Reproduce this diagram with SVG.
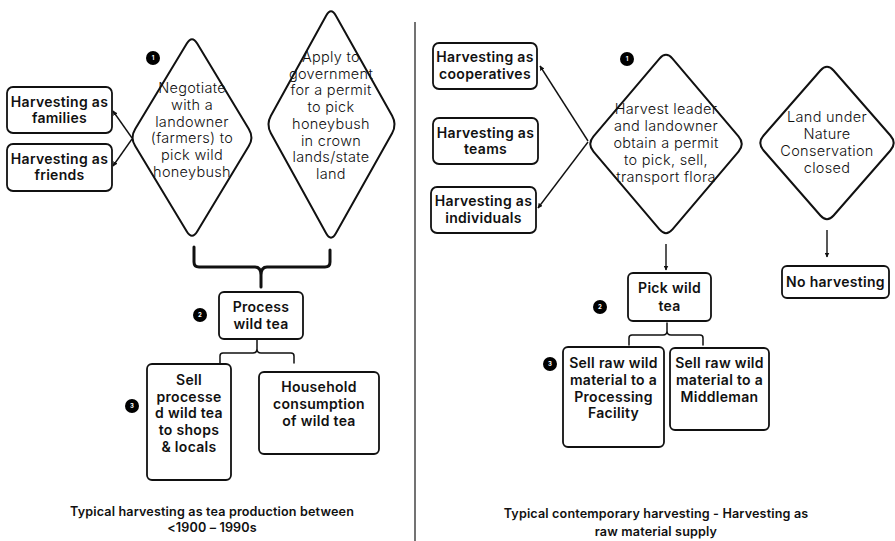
<svg xmlns="http://www.w3.org/2000/svg" width="895" height="541" viewBox="0 0 895 541">
<defs>
<marker id="ah" viewBox="0 0 10 10" refX="9" refY="5" markerWidth="5" markerHeight="5" orient="auto" markerUnits="userSpaceOnUse">
<path d="M0,0 L10,5 L0,10 Z" fill="#111"/>
</marker>
<style>
.box{fill:#fff;stroke:#111;stroke-width:1.8}
.dia{fill:#fff;stroke:#111;stroke-width:2}
.bt{font-family:Inter,"Noto Sans",sans-serif;font-weight:600;font-size:14px;letter-spacing:0.3px;fill:#111;text-anchor:middle}
.lt{font-family:Inter,"Noto Sans",sans-serif;font-weight:300;font-size:14.5px;letter-spacing:0.3px;fill:#111;text-anchor:middle}
.cap{font-family:Inter,"Noto Sans",sans-serif;font-weight:600;font-size:12.6px;letter-spacing:0.15px;fill:#111;text-anchor:middle}
.badge{fill:#000}
.bn{font-family:Inter,sans-serif;font-size:6px;fill:#fff;text-anchor:middle;font-weight:700}
.ar{stroke:#111;stroke-width:1.4;fill:none;marker-end:url(#ah)}
.br{stroke:#111;fill:none;stroke-linejoin:round;stroke-linecap:round}
</style>
</defs>
<rect width="895" height="541" fill="#fff"/>
<line x1="415" y1="22" x2="415" y2="541" stroke="#444" stroke-width="1.5"/>

<g id="connectors">
<line class="ar" x1="132" y1="138" x2="113" y2="111"/>
<line class="ar" x1="132" y1="139" x2="113" y2="166"/>
<line class="ar" x1="588" y1="141" x2="540" y2="66"/>
<line class="ar" x1="588" y1="142" x2="538" y2="208"/>
<line class="ar" x1="666" y1="244" x2="666" y2="270"/>
<line class="ar" x1="827" y1="230" x2="827" y2="257"/>
<path class="br" stroke-width="3" d="M194,247 L194,262 Q194,267 199,267 L255,267 Q261,267 261,275 L261,287 M261,275 Q261,267 267,267 L325,267 Q330,267 330,262 L330,250"/>
<path class="br" stroke-width="1.5" d="M220,363 L220,356 Q220,353 223,353 L253,353 Q257,353 257,349 L257,340 M257,349 Q257,353 261,353 L291,353 Q294,353 294,356 L294,363"/>
<path class="br" stroke-width="1.5" d="M629,345 L629,338 Q629,335 632,335 L663,335 Q667,335 667,331 L667,323 M667,331 Q667,335 671,335 L700,335 Q703,335 703,338 L703,345"/>
</g>

<g id="badges">
<circle class="badge" cx="153" cy="58" r="7"/><text class="bn" x="153" y="60">1</text>
<circle class="badge" cx="200" cy="315" r="7"/><text class="bn" x="200" y="317">2</text>
<circle class="badge" cx="132" cy="406" r="7"/><text class="bn" x="132" y="408">3</text>
<circle class="badge" cx="627" cy="59" r="7"/><text class="bn" x="627" y="61">1</text>
<circle class="badge" cx="600" cy="307" r="7"/><text class="bn" x="600" y="309">2</text>
<circle class="badge" cx="550" cy="364" r="7"/><text class="bn" x="550" y="366">3</text>
</g>

<g id="families">
<rect class="box" x="7" y="87" width="105" height="46" rx="6"/>
<text class="bt" x="59.5" y="107">Harvesting as</text>
<text class="bt" x="59.5" y="123">families</text>
</g>
<g id="friends">
<rect class="box" x="7" y="144" width="105" height="47" rx="6"/>
<text class="bt" x="59.5" y="164">Harvesting as</text>
<text class="bt" x="59.5" y="180">friends</text>
</g>

<g id="negotiate">
<path class="dia" d="M197.2,43.6 L248.8,128.9 Q254,137.5 248.8,146.1 L197.2,231.4 Q192,240 186.8,231.4 L135.2,146.1 Q130,137.5 135.2,128.9 L186.8,43.6 Q192,35 197.2,43.6 Z"/>
<text class="lt" x="192" y="93">Negotiate</text>
<text class="lt" x="192" y="109.8">with a</text>
<text class="lt" x="192" y="126.6">landowner</text>
<text class="lt" x="192" y="143.4">(farmers) to</text>
<text class="lt" x="192" y="160.2">pick wild</text>
<text class="lt" x="192" y="177">honeybush</text>
</g>

<g id="apply">
<path class="dia" d="M335.9,15.7 L392.1,115.8 Q397,124.5 392.1,133.2 L335.9,233.3 Q331,242 326.1,233.3 L270.9,133.2 Q266,124.5 270.9,115.8 L326.1,15.7 Q331,7 335.9,15.7 Z"/>
<text class="lt" x="331" y="62">Apply to</text>
<text class="lt" x="331" y="78.7">government</text>
<text class="lt" x="331" y="95.4">for a permit</text>
<text class="lt" x="331" y="112.1">to pick</text>
<text class="lt" x="331" y="128.8">honeybush</text>
<text class="lt" x="331" y="145.5">in crown</text>
<text class="lt" x="331" y="162.2">lands/state</text>
<text class="lt" x="331" y="178.9">land</text>
</g>

<g id="process">
<rect class="box" x="219" y="292" width="84" height="47" rx="5"/>
<text class="bt" x="261" y="312">Process</text>
<text class="bt" x="261" y="329">wild tea</text>
</g>

<g id="sell-processed">
<rect class="box" x="147" y="364" width="84" height="116" rx="5"/>
<text class="bt" x="189" y="385">Sell</text>
<text class="bt" x="189" y="401.7">processe</text>
<text class="bt" x="189" y="418.4">d wild tea</text>
<text class="bt" x="189" y="435.1">to shops</text>
<text class="bt" x="189" y="451.8">&amp; locals</text>
</g>

<g id="household">
<rect class="box" x="259" y="372" width="120" height="82" rx="5"/>
<text class="bt" x="319" y="392">Household</text>
<text class="bt" x="319" y="409">consumption</text>
<text class="bt" x="319" y="426">of wild tea</text>
</g>

<g id="caption-left">
<text class="cap" x="212" y="516">Typical harvesting as tea production between</text>
<text class="cap" x="212" y="532">&lt;1900 – 1990s</text>
</g>

<g id="cooperatives">
<rect class="box" x="433" y="43" width="104" height="46" rx="6"/>
<text class="bt" x="485" y="62">Harvesting as</text>
<text class="bt" x="485" y="79">cooperatives</text>
</g>
<g id="teams">
<rect class="box" x="433" y="118" width="105" height="46" rx="6"/>
<text class="bt" x="485.5" y="138">Harvesting as</text>
<text class="bt" x="485.5" y="154">teams</text>
</g>
<g id="individuals">
<rect class="box" x="431" y="187" width="105" height="46" rx="6"/>
<text class="bt" x="483.5" y="206">Harvesting as</text>
<text class="bt" x="483.5" y="223">individuals</text>
</g>

<g id="permit">
<path class="dia" d="M672.5,58.6 L738.5,136.4 Q745,144 738.5,151.6 L672.5,229.4 Q666,237 659.5,229.4 L593.5,151.6 Q587,144 593.5,136.4 L659.5,58.6 Q666,51 672.5,58.6 Z"/>
<text class="lt" x="666" y="114">Harvest leader</text>
<text class="lt" x="666" y="131">and landowner</text>
<text class="lt" x="666" y="148">obtain a permit</text>
<text class="lt" x="666" y="165">to pick, sell,</text>
<text class="lt" x="666" y="182">transport flora</text>
</g>

<g id="conservation">
<path class="dia" d="M833.6,70.5 L890.4,135.5 Q897,143 890.4,150.5 L833.6,215.5 Q827,223 820.4,215.5 L763.6,150.5 Q757,143 763.6,135.5 L820.4,70.5 Q827,63 833.6,70.5 Z"/>
<text class="lt" x="827" y="122">Land under</text>
<text class="lt" x="827" y="139">Nature</text>
<text class="lt" x="827" y="156">Conservation</text>
<text class="lt" x="827" y="173">closed</text>
</g>

<g id="no-harvesting">
<rect class="box" x="782" y="266" width="107" height="32" rx="5"/>
<text class="bt" x="835.5" y="287">No harvesting</text>
</g>

<g id="pick">
<rect class="box" x="628" y="273" width="83" height="48" rx="5"/>
<text class="bt" x="669.5" y="293">Pick wild</text>
<text class="bt" x="669.5" y="311">tea</text>
</g>

<g id="processing-facility">
<rect class="box" x="563" y="347" width="101" height="100" rx="5"/>
<text class="bt" x="613.5" y="368">Sell raw wild</text>
<text class="bt" x="613.5" y="384.8">material to a</text>
<text class="bt" x="613.5" y="401.6">Processing</text>
<text class="bt" x="613.5" y="418.4">Facility</text>
</g>

<g id="middleman">
<rect class="box" x="670" y="348" width="99" height="82" rx="5"/>
<text class="bt" x="719.5" y="368">Sell raw wild</text>
<text class="bt" x="719.5" y="384.8">material to a</text>
<text class="bt" x="719.5" y="401.6">Middleman</text>
</g>

<g id="caption-right">
<text class="cap" x="656" y="518">Typical contemporary harvesting - Harvesting as</text>
<text class="cap" x="656" y="536">raw material supply</text>
</g>
</svg>
